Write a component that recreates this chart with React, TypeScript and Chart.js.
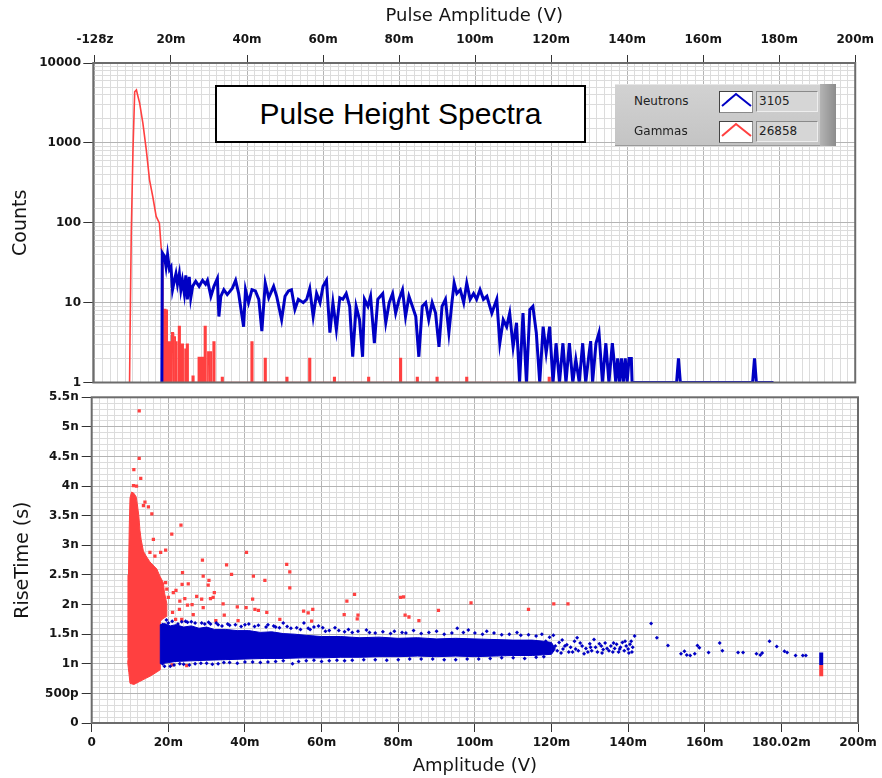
import React, { useEffect, useRef } from 'react';
import { Chart, registerables } from 'chart.js';

Chart.register(...registerables);

// ---------- tick labels ----------
const topXTickLabels = ['-128z', '20m', '40m', '60m', '80m', '100m', '120m', '140m', '160m', '180m', '200m'];
const topYTickLabels = ['1', '10', '100', '1000', '10000'];
const bottomXTickLabels = ['0', '20m', '40m', '60m', '80m', '100m', '120m', '140m', '160m', '180.02m', '200m'];
const bottomYTickLabels = ['0', '500p', '1n', '1.5n', '2n', '2.5n', '3n', '3.5n', '4n', '4.5n', '5n', '5.5n'];

// ---------- pulse height spectra (x in mV, counts) ----------
const neutronCounts: [number, number][] = [
  [17.6, 1], [17.7, 42], [18.3, 38], [18.7, 28], [19.1, 40], [19.6, 26], [20.0, 28], [20.4, 14.5], [20.9, 19], [21.3, 23],
  [21.7, 17], [22.2, 23], [22.6, 14.5], [23.0, 19], [23.5, 13], [23.9, 22], [24.3, 11], [24.8, 21], [25.2, 11.5], [25.7, 16],
  [26.5, 18.5], [27.4, 16], [28.3, 19], [29.1, 17], [29.6, 19], [30.5, 12], [31.3, 16], [32.2, 20], [32.6, 6.7], [33.1, 12],
  [33.9, 14.5], [34.8, 12.6], [36.1, 15], [37.0, 19], [37.8, 13], [39.1, 5], [39.6, 14.5], [40.4, 10], [41.3, 14.5], [42.2, 14],
  [43.1, 11], [43.9, 4.4], [44.8, 17.6], [45.7, 11.5], [47.0, 16], [47.8, 12], [49.1, 6.1], [50.0, 12], [50.9, 14], [51.7, 14.5],
  [52.6, 8.2], [53.5, 11], [54.8, 10], [55.7, 11], [56.5, 15], [57.4, 6.7], [58.3, 13], [59.2, 10], [60.0, 16], [60.9, 19],
  [61.8, 4.2], [62.6, 10], [63.5, 4.6], [64.4, 11.5], [65.2, 11], [66.1, 13], [67.0, 9], [67.8, 2.1], [68.7, 9], [69.6, 6.1],
  [70.4, 2.1], [70.9, 11], [71.8, 9], [72.5, 12], [73.5, 3.1], [74.4, 11], [75.7, 13], [76.5, 5.6], [77.4, 10], [78.3, 13],
  [79.1, 7.4], [80.0, 11], [80.9, 14.5], [81.7, 6.7], [82.6, 12], [83.5, 9], [84.4, 6.7], [85.2, 2.1], [86.1, 9], [87.0, 10],
  [87.8, 6.1], [88.7, 10], [89.6, 7.4], [90.5, 2.8], [91.3, 9], [92.2, 11], [93.1, 4.2], [93.9, 10], [94.5, 17.6], [95.2, 13],
  [96.1, 14.5], [97.0, 10], [97.8, 17.6], [98.7, 11], [99.6, 13], [100.4, 11], [101.3, 14.5], [102.2, 11], [103.1, 12], [104.4, 7.4],
  [105.7, 11], [106.5, 3.1], [107.4, 6.1], [108.3, 5], [109.1, 7.4], [110.0, 2.8], [110.9, 5.6], [111.7, 1], [112.6, 7.4], [113.5, 1],
  [114.4, 8.2], [115.2, 9], [116.1, 4.2], [117.0, 1], [117.9, 5], [118.7, 2.35], [119.6, 5], [120.5, 1], [121.3, 3.1], [122.2, 1],
  [123.1, 3.1], [123.9, 1], [124.8, 3.1], [125.7, 1], [126.5, 1.94], [127.4, 1], [128.3, 3.1], [129.1, 1], [130.0, 2.35], [130.4, 3.3],
  [130.9, 1], [131.8, 3.1], [132.6, 4.2], [133.5, 1], [134.4, 3.1], [135.2, 1], [136.1, 3.1], [136.5, 2], [137.0, 1], [137.5, 2],
  [138.0, 1], [138.5, 2], [139.0, 1], [139.5, 2], [140.0, 1], [140.5, 2], [141.1, 2], [141.3, 1], [153.0, 1], [153.5, 2],
  [154.0, 1], [173.0, 1], [173.5, 2], [174.0, 1], [178.5, 1],
];

const gammaPeak: [number, number][] = [
  [9.1, 1], [9.25, 5], [9.55, 75], [10.0, 815], [10.45, 4370], [10.9, 4600], [11.2, 4000], [11.75, 3150], [12.6, 1770],
  [13.5, 815], [14.35, 345], [15.2, 213], [16.1, 120], [16.95, 99], [17.4, 50], [17.75, 40], [17.85, 1],
];

const gammaSpikes: [number, number][] = [
  [18.4, 8.2], [18.8, 8.0], [19.6, 3.2], [20.0, 2.0], [20.4, 4.2], [20.9, 3.7], [21.3, 3.2], [22.2, 5.0], [22.6, 2.2],
  [23.0, 3.0], [23.9, 2.6], [24.3, 3.0], [25.8, 1.2], [27.4, 2.05], [28.2, 2.05], [29.0, 5.0], [29.9, 2.4], [30.4, 2.4],
  [31.3, 3.2], [33.5, 1.15], [41.3, 3.2], [44.8, 2.0], [50.5, 1.15], [56.5, 2.0], [63.0, 1.15], [72.0, 1.15], [80.4, 2.0],
  [84.8, 1.15], [90.0, 1.15], [97.8, 1.15], [119.5, 1.15],
];
const gammaTailEnd = 125;

// ---------- rise time scatter (x in mV, y in ns) ----------
const gammaDenseOutline: [number, number][] = [
  [9.4, 1.02], [9.7, 0.85], [10.0, 0.67], [11.0, 0.65], [12.5, 0.7], [14.0, 0.75], [15.5, 0.8], [17.0, 0.86], [17.9, 0.9],
  [17.9, 1.72], [18.6, 1.76], [19.5, 1.8], [19.6, 2.02], [19.0, 2.2], [18.7, 2.37], [17.8, 2.48], [17.0, 2.6], [15.2, 2.72],
  [14.2, 2.82], [13.5, 2.9], [12.9, 3.1], [12.6, 3.25], [12.3, 3.5], [11.9, 3.7], [11.6, 3.82], [11.0, 3.88], [10.4, 3.9],
  [10.0, 3.8], [9.8, 3.3], [9.6, 2.5], [9.55, 1.5], [9.5, 1.1],
];

const neutronDenseOutline: [number, number][] = [
  [17.9, 1.66], [19, 1.68], [20.5, 1.64], [22, 1.66], [24, 1.62], [26, 1.64], [28, 1.6], [30, 1.62], [32, 1.58], [35, 1.58],
  [38, 1.56], [41, 1.56], [44, 1.53], [47, 1.54], [50, 1.51], [53, 1.5], [56, 1.48], [60, 1.46], [65, 1.46], [70, 1.44],
  [75, 1.45], [80, 1.43], [85, 1.44], [90, 1.42], [95, 1.43], [100, 1.42], [105, 1.41], [110, 1.4], [115, 1.4], [118, 1.38],
  [120, 1.36], [121, 1.25], [120, 1.16], [115, 1.14], [110, 1.14], [105, 1.13], [100, 1.12], [95, 1.13], [90, 1.12], [85, 1.13],
  [80, 1.12], [75, 1.12], [70, 1.11], [65, 1.11], [60, 1.1], [55, 1.1], [50, 1.09], [45, 1.09], [40, 1.08], [35, 1.07],
  [30, 1.06], [26, 1.05], [22, 1.04], [20, 1.02], [17.9, 1.0],
];

const neutronEvents: [number, number][] = [
  [19.5, 1.74], [21, 1.72], [23.5, 1.71], [25, 1.7], [27, 1.69], [28.7, 1.69], [31, 1.67], [33, 1.66], [36, 1.65], [40, 1.66],
  [42.5, 1.63], [45.5, 1.62], [48, 1.62], [50, 1.69], [52, 1.6], [55.4, 1.69], [57, 1.58], [59.2, 1.64], [60.3, 1.61], [62, 1.56],
  [63.5, 1.61], [66, 1.54], [68, 1.53], [71.7, 1.57], [74, 1.52], [78, 1.51], [82, 1.52], [86, 1.51], [92, 1.5], [95.4, 1.6],
  [98.3, 1.57], [103.1, 1.55], [107, 1.49], [112, 1.48], [116, 1.47],
  [18.5, 1.66], [20, 1.69], [22.5, 1.67], [24.5, 1.72], [26, 1.71], [29.5, 1.67], [30.5, 1.7], [32.5, 1.69], [34, 1.64],
  [35.5, 1.67], [37.5, 1.66], [39, 1.63], [41, 1.67], [43.5, 1.65], [46, 1.66], [47.5, 1.64], [49, 1.61], [51, 1.63],
  [53.5, 1.61], [54.5, 1.58], [56.5, 1.6], [58, 1.62], [61, 1.55], [64.5, 1.56], [67, 1.58], [69.5, 1.55], [72.5, 1.53],
  [76, 1.54], [79, 1.55], [81, 1.53], [84, 1.56], [88, 1.53], [90, 1.55], [94, 1.52], [97, 1.53], [100, 1.52], [102, 1.5],
  [105, 1.52], [109, 1.5], [111, 1.53], [114, 1.49], [117.5, 1.5], [119.5, 1.45],
  [19, 0.96], [21.5, 0.98], [24, 0.99], [27, 1.0], [30, 1.01], [33, 1.0], [36, 1.02], [40, 1.03], [44, 1.02], [48, 1.04],
  [52.4, 1.0], [56, 1.05], [62, 1.05], [68, 1.06], [74, 1.07], [80, 1.07], [86, 1.08], [92, 1.07], [98, 1.08], [104, 1.09],
  [110, 1.1], [116, 1.11],
  [18.5, 1.0], [20.5, 0.96], [23, 1.0], [25.5, 0.98], [28.5, 1.01], [31.5, 0.99], [34.5, 1.02], [38, 1.01], [42, 1.03],
  [46, 1.03], [50, 1.05], [54, 1.04], [58, 1.06], [60, 1.04], [64, 1.06], [66, 1.05], [71, 1.07], [77, 1.06], [83, 1.08],
  [89, 1.08], [95, 1.07], [101, 1.08], [107, 1.1], [113, 1.09], [118, 1.12],
  [118.5, 1.38], [119, 1.2], [120.5, 1.48], [121, 1.3], [122, 1.36], [122.5, 1.18], [123, 1.25], [124, 1.32], [124.5, 1.2],
  [125, 1.28], [126, 1.38], [126.7, 1.44], [127, 1.22], [128, 1.3], [128.5, 1.17], [129, 1.26], [130, 1.34], [130.5, 1.22],
  [131.1, 1.41], [131.5, 1.28], [132, 1.2], [133, 1.3], [133.5, 1.24], [134, 1.35], [135, 1.22], [135.5, 1.3], [136.5, 1.26],
  [137, 1.33], [137.5, 1.2], [138, 1.28], [138.5, 1.36], [139, 1.22], [139.5, 1.3], [140, 1.25], [140.5, 1.33], [141, 1.2],
  [141.7, 1.47], [141.2, 1.28], [140.8, 1.38],
  [119.5, 1.32], [120, 1.25], [121.5, 1.22], [122.8, 1.4], [123.5, 1.3], [125.5, 1.2], [126.3, 1.25], [127.5, 1.35],
  [129.5, 1.2], [130.2, 1.28], [132.5, 1.34], [133.2, 1.18], [134.5, 1.26], [136, 1.2], [136.2, 1.35], [137.8, 1.25],
  [139.2, 1.38], [140.2, 1.18],
  [146.0, 1.68], [147.5, 1.44], [150.4, 1.31], [153.8, 1.17], [154.7, 1.21], [155.3, 1.15], [156.2, 1.14], [157.4, 1.17],
  [158.1, 1.31], [158.6, 1.27], [161.0, 1.19], [163.9, 1.35], [164.6, 1.22], [168.7, 1.19], [170.0, 1.19], [173.5, 1.17],
  [174.5, 1.15], [175.0, 1.18], [176.9, 1.38], [178.8, 1.29], [180.8, 1.21], [181.5, 1.19], [183.7, 1.14], [185.6, 1.14],
  [186.4, 1.14],
];

const gammaEvents: [number, number][] = [
  [12.4, 5.27], [12.4, 4.47], [11.0, 4.28], [12.8, 4.13], [10.9, 4.01], [11.7, 4.0], [13.9, 3.73], [14.8, 3.65], [13.5, 3.67],
  [15.7, 3.53], [23.3, 3.34], [20.9, 3.19], [16.1, 3.1], [15.2, 2.88], [16.5, 2.82], [18.0, 2.88], [19.3, 2.92], [28.9, 2.75],
  [23.7, 2.54], [29.1, 2.48], [35.2, 2.67], [36.5, 2.51], [19.3, 2.37], [25.2, 2.35], [23.6, 2.34], [30.6, 2.41], [30.4, 2.33],
  [19.6, 2.26], [21.3, 2.2], [32.0, 2.2], [22.0, 2.24], [24.3, 2.1], [23.0, 2.06], [26.2, 2.0], [27.4, 2.14], [28.7, 2.09],
  [31.0, 2.1], [22.9, 1.92], [21.1, 1.87], [25.0, 1.99], [29.1, 1.95], [34.6, 1.82], [21.9, 1.75], [23.5, 1.75], [20.0, 2.12],
  [21.0, 0.98], [24.8, 0.97], [40.4, 2.88], [42.2, 2.48], [45.2, 2.41], [50.9, 2.68], [51.7, 2.55], [51.7, 2.28], [42.0, 2.09],
  [42.6, 1.92], [43.5, 1.9], [45.7, 1.87], [40.3, 1.95], [38.0, 1.96], [34.3, 2.01], [38.2, 1.73], [32.4, 1.73], [26.5, 1.83],
  [31.7, 2.12], [49.1, 1.75], [55.3, 1.89], [56.5, 1.86], [57.7, 1.92], [57.4, 1.72], [66.6, 2.06], [68.6, 2.17], [65.9, 1.83],
  [69.5, 1.82], [69.3, 1.76], [80.6, 2.12], [81.4, 2.13], [81.8, 1.82], [82.8, 1.79], [85.4, 1.73], [90.5, 1.9], [99.0, 2.03],
  [114.0, 1.92], [120.6, 2.01], [124.3, 2.01],
];

const neutronEndBar: [number, number][] = [[190.4, 0.98], [190.4, 1.19]];
const gammaEndBar: [number, number][] = [[190.4, 0.79], [190.4, 0.98]];

// ---------- helpers ----------
const near = (v: number, step: number) => Math.abs(v / step - Math.round(v / step)) < 1e-6;
const MAJOR = '#b4b4b4';
const MINOR = '#dcdcdc';
const BLUE = '#0000c4';
const RED = '#ff4040';
const tickFont = { family: 'DejaVu Sans', size: 12, weight: 'bold' as const };
const titleFont = { family: 'DejaVu Sans', size: 18 };

const pts = (a: [number, number][]) => a.map(([x, y]) => ({ x, y }));
const closed = (a: [number, number][]) => pts([...a, a[0]]);

function gammaSeries() {
  const out: { x: number; y: number }[] = pts(gammaPeak);
  for (const [x, h] of gammaSpikes) {
    out.push({ x: x - 0.2, y: 1 }, { x: x - 0.2, y: h }, { x: x + 0.2, y: h }, { x: x + 0.2, y: 1 });
  }
  out.push({ x: gammaTailEnd, y: 1 });
  return out;
}

function grid(isMajor: (v: number) => boolean, tickLength: number) {
  return {
    color: (c: any) => (c.tick && isMajor(c.tick.value) ? MAJOR : MINOR),
    tickColor: (c: any) => (c.tick && isMajor(c.tick.value) ? '#333333' : 'rgba(0,0,0,0)'),
    tickLength,
    tickWidth: 1,
    lineWidth: 1,
  };
}

const framePlugin = {
  id: 'frame',
  afterDatasetsDraw(chart: any) {
    const { ctx, chartArea } = chart;
    const { left, top, right, bottom } = chartArea;
    ctx.save();
    ctx.strokeStyle = '#6c6c6c';
    ctx.lineWidth = 2;
    ctx.strokeRect(left, top, right - left, bottom - top);
    ctx.restore();
  },
};

function topConfig(): any {
  const isMajX = (v: number) => near(v, 20);
  const isMajY = (v: number) => near(Math.log10(v), 1);
  return {
    type: 'line',
    data: {
      datasets: [
        { label: 'Neutrons', data: pts(neutronCounts), borderColor: BLUE, borderWidth: 3, pointRadius: 0, tension: 0 },
        { label: 'Gammas', data: gammaSeries(), borderColor: RED, borderWidth: 1.6, pointRadius: 0, tension: 0 },
      ],
    },
    options: {
      animation: false,
      responsive: false,
      events: [],
      layout: { padding: { left: 0, right: 21, top: 0, bottom: 9 } },
      plugins: { legend: { display: false }, tooltip: { enabled: false } },
      scales: {
        x: {
          type: 'linear',
          position: 'top',
          min: -0.44,
          max: 200,
          afterFit: (s: any) => { s.height = 63; },
          afterBuildTicks: (s: any) => {
            s.ticks = Array.from({ length: 101 }, (_, i) => ({ value: i * 2 }));
          },
          border: { display: false },
          grid: grid(isMajX, 8),
          ticks: {
            stepSize: 2, autoSkip: false, maxRotation: 0, minRotation: 0, padding: 8, font: tickFont, color: '#151515',
            callback: (v: number) => (isMajX(v) ? topXTickLabels[Math.round(v / 20)] ?? '' : ''),
          },
          title: { display: true, text: 'Pulse Amplitude (V)', font: titleFont, color: '#151515', padding: { top: 6, bottom: 0 } },
        },
        y: {
          type: 'logarithmic',
          min: 1,
          max: 10000,
          afterFit: (s: any) => { s.width = 93.3; },
          border: { display: false },
          grid: grid(isMajY, 10),
          ticks: {
            autoSkip: false, padding: 2.3, font: tickFont, color: '#151515',
            callback: (v: number) => (isMajY(v) ? topYTickLabels[Math.round(Math.log10(v))] ?? '' : ''),
          },
          title: { display: true, text: 'Counts', font: { family: 'DejaVu Sans', size: 19 }, color: '#151515', padding: { top: 10, bottom: 0 } },
        },
      },
    },
    plugins: [framePlugin],
  };
}

function bottomConfig(): any {
  const isMajX = (v: number) => near(v, 20);
  const isMajY = (v: number) => near(v, 0.5);
  return {
    type: 'scatter',
    data: {
      datasets: [
        { type: 'line', data: pts(neutronEndBar), borderColor: BLUE, borderWidth: 4, pointRadius: 0, fill: false },
        { type: 'line', data: pts(gammaEndBar), borderColor: RED, borderWidth: 4, pointRadius: 0, fill: false },
        { data: pts(neutronEvents), pointStyle: 'rectRot', pointRadius: 2, backgroundColor: BLUE, borderWidth: 0 },
        { type: 'line', data: closed(neutronDenseOutline), fill: 'shape', backgroundColor: BLUE, borderColor: BLUE, borderWidth: 1, pointRadius: 0 },
        { data: pts(gammaEvents), pointStyle: 'rect', pointRadius: 2.3, backgroundColor: RED, borderWidth: 0 },
        { type: 'line', data: closed(gammaDenseOutline), fill: 'shape', backgroundColor: RED, borderColor: RED, borderWidth: 1, pointRadius: 0 },
      ],
    },
    options: {
      animation: false,
      responsive: false,
      events: [],
      layout: { padding: { left: 0, right: 24, top: 12.3, bottom: 0 } },
      plugins: { legend: { display: false }, tooltip: { enabled: false } },
      scales: {
        x: {
          type: 'linear',
          position: 'bottom',
          min: 0,
          max: 200,
          afterFit: (s: any) => { s.height = 55; },
          border: { display: false },
          grid: grid(isMajX, 9),
          ticks: {
            stepSize: 2, autoSkip: false, maxRotation: 0, minRotation: 0, padding: 4, font: tickFont, color: '#151515',
            callback: (v: number) => (isMajX(v) ? bottomXTickLabels[Math.round(v / 20)] ?? '' : ''),
          },
          title: { display: true, text: 'Amplitude (V)', font: titleFont, color: '#151515', padding: { top: 0, bottom: 1.2 } },
        },
        y: {
          type: 'linear',
          min: 0,
          max: 5.5,
          afterFit: (s: any) => { s.width = 91.7; },
          border: { display: false },
          grid: grid(isMajY, 10),
          ticks: {
            stepSize: 0.1, autoSkip: false, padding: 3, font: tickFont, color: '#151515',
            callback: (v: number) => (isMajY(v) ? bottomYTickLabels[Math.round(v / 0.5)] ?? '' : ''),
          },
          title: { display: true, text: 'RiseTime (s)', font: { family: 'DejaVu Sans', size: 19 }, color: '#151515', padding: { top: 11.5, bottom: 0 } },
        },
      },
    },
    plugins: [framePlugin],
  };
}

function Chevron({ color }: { color: string }) {
  return (
    <svg width={32} height={20} style={{ display: 'block' }}>
      <polyline points="2,14 16,2 31,14" fill="none" stroke={color} strokeWidth={2} />
    </svg>
  );
}

const legendRows = [
  { name: 'Neutrons', count: '3105', color: BLUE, top: 91 },
  { name: 'Gammas', count: '26858', color: RED, top: 121 },
];

export default function App() {
  const topRef = useRef<HTMLCanvasElement>(null);
  const botRef = useRef<HTMLCanvasElement>(null);

  useEffect(() => {
    const c1 = new Chart(topRef.current as HTMLCanvasElement, topConfig());
    const c2 = new Chart(botRef.current as HTMLCanvasElement, bottomConfig());
    return () => {
      c1.destroy();
      c2.destroy();
    };
  }, []);

  return (
    <div style={{ position: 'absolute', left: 0, top: 0, width: 882, height: 778, background: '#ffffff', overflow: 'hidden' }}>
      <canvas ref={topRef} width={882} height={392} style={{ position: 'absolute', left: 0, top: 0, display: 'block' }} />
      <canvas ref={botRef} width={882} height={393} style={{ position: 'absolute', left: 0, top: 385, display: 'block' }} />

      <div
        style={{
          position: 'absolute', left: 215, top: 85, width: 371, height: 58, boxSizing: 'border-box',
          border: '2px solid #000', background: '#fff', display: 'flex', alignItems: 'center', justifyContent: 'center',
          fontFamily: '"Liberation Sans", Arial, sans-serif', fontSize: 30, color: '#000',
        }}
      >
        Pulse Height Spectra
      </div>

      <div
        style={{
          position: 'absolute', left: 615, top: 84, width: 221, height: 62, boxSizing: 'border-box',
          background: 'linear-gradient(#d2d2d2, #c4c4c4)', borderTop: '1px solid #e6e6e6', borderBottom: '1px solid #9a9a9a',
        }}
      />
      <div
        style={{
          position: 'absolute', left: 820, top: 84, width: 16, height: 62,
          background: 'linear-gradient(90deg, #b4b4b4, #8c8c8c)',
        }}
      />
      {legendRows.map((r) => (
        <React.Fragment key={r.name}>
          <div
            style={{
              position: 'absolute', left: 634, top: r.top + 1, height: 18, lineHeight: '18px',
              fontFamily: '"DejaVu Sans", sans-serif', fontSize: 12, color: '#222',
            }}
          >
            {r.name}
          </div>
          <div
            style={{
              position: 'absolute', left: 719, top: r.top, width: 34, height: 22, boxSizing: 'border-box', background: '#fff',
              borderTop: '1px solid #444', borderLeft: '1px solid #444', borderRight: '1px solid #8a8a8a', borderBottom: '1px solid #8a8a8a',
            }}
          >
            <Chevron color={r.color} />
          </div>
          <div
            style={{
              position: 'absolute', left: 756, top: r.top, width: 62, height: 21, boxSizing: 'border-box', background: '#d6d6d6',
              borderTop: '1px solid #8a8a8a', borderLeft: '1px solid #8a8a8a', borderRight: '1px solid #eeeeee', borderBottom: '1px solid #eeeeee',
              fontFamily: '"DejaVu Sans", sans-serif', fontSize: 12, color: '#222', lineHeight: '19px', paddingLeft: 2,
            }}
          >
            {r.count}
          </div>
        </React.Fragment>
      ))}
    </div>
  );
}
